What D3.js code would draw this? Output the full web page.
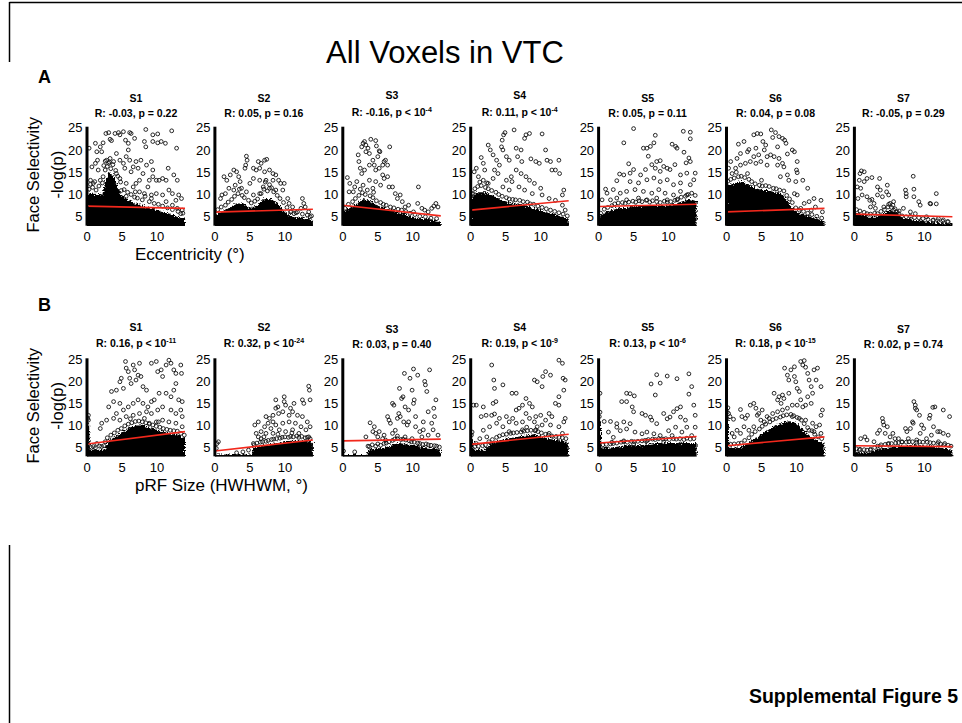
<!DOCTYPE html>
<html>
<head>
<meta charset="utf-8">
<script src="https://cdn.jsdelivr.net/npm/d3@7/dist/d3.min.js"></script>
<style>
  body { margin: 0; background: #fff; }
  svg text { font-family: Arial, "Liberation Sans", Helvetica, sans-serif; fill: #000; }
</style>
</head>
<body>
<div id="fig"></div>
<script>

// ---- data ----
var subjects = ["S1", "S2", "S3", "S4", "S5", "S6", "S7"];
var xTicks = [0, 5, 10];
var yTicks = [5, 10, 15, 20, 25];

var eccStats = ["R: -0.03, p = 0.22", "R: 0.05, p = 0.16", "R: -0.16, p < 10", "R: 0.11, p < 10",
                "R: 0.05, p = 0.11", "R: 0.04, p = 0.08", "R: -0.05, p = 0.29"];
var eccSup = ["", "", "-4", "-4", "", "", ""];
var sizeStats = ["R: 0.16, p < 10", "R: 0.32, p < 10", "R: 0.03, p = 0.40", "R: 0.19, p < 10",
                 "R: 0.13, p < 10", "R: 0.18, p < 10", "R: 0.02, p = 0.74"];
var sizeSup = ["-11", "-24", "", "-9", "-6", "-15", ""];

// regression line: [value at x=0, value at x=14]
var eccFit = [[7.4, 6.9], [6.05, 6.7], [7.6, 5.2], [6.5, 8.6], [7.3, 7.8], [6.1, 6.9], [5.6, 5.0]];
var sizeFit = [[5.8, 8.6], [4.2, 6.7], [6.5, 6.9], [5.7, 8.0], [6.0, 7.5], [5.4, 7.4], [5.4, 5.2]];

// top edge of the saturated (fully overlapping) point mass, [x, y]
var eccDense = [
  [[0,10.3],[2.2,10],[2.6,13],[3.1,15],[3.7,14.5],[4.2,12.5],[4.8,10.2],[5.4,9.3],[6,8.7],[7,8],[8,7.5],[9,7],[10,6.5],[11,6],[12,5.5],[13,5],[14,4.5]],
  [[0,5.5],[1,6],[2,7],[3,8],[4,8],[5,7],[6,7.5],[7,9],[8,9],[9,8],[10,6],[11,5],[12,4.8],[13,4.6],[14,4.3]],
  [[0,6],[1,7],[2,8],[3,9],[4,8.5],[5,7.5],[6,7],[7,6.5],[8,6],[9,5.5],[10,5],[11,4.5],[12,4.5],[13,4.2],[14,4]],
  [[0,9],[1,10.5],[2,10.5],[3,10],[4,9],[5,8.5],[6,8],[7,8],[8,7.5],[9,7],[10,6.5],[11,6],[12,5.5],[13,5],[14,4.5]],
  [[0,5],[1,6],[2,6.5],[3,7],[4,7],[5,7.5],[6,7.5],[7,7.5],[8,7.5],[9,7.5],[10,7.5],[11,8],[12,8.5],[13,9],[14,8.5]],
  [[0,12],[1,12.5],[2,13],[3,12.5],[4,11.5],[5,11],[6,11],[7,10.5],[8,10],[9,8],[10,6],[11,5.5],[12,5],[13,4.5],[14,4]],
  [[0,6],[1,5.5],[2,5],[3,5],[4,5.5],[5,6.5],[6,6],[7,4.5],[8,4.5],[9,4.2],[10,4],[11,3.8],[12,3.6],[13,3.5],[14,3.5]]
];
var sizeDense = [
  [[0,10.5],[0.3,10.5],[0.4,4.5],[2.5,4.5],[3,6.5],[4,7.5],[5,8.5],[6,9.5],[7,10],[8,10],[9,9.5],[10,9],[11,8.5],[12,8],[13,8],[14,7]],
  [[0,3.4],[5.3,3.4],[5.5,5],[7,5.5],[9,6],[11,6.5],[13,6.5],[14,6]],
  [[0,3.3],[3.4,3.3],[3.6,4.5],[6,5],[8,6],[10,5.5],[12,5],[14,4.5]],
  [[0,7],[0.3,7],[0.4,4.5],[2,4.5],[3,6],[5,7],[7,7.5],[9,8],[11,7],[13,6.5],[14,6]],
  [[0,11],[0.3,11],[0.4,5],[2,5],[4,5.5],[6,5.5],[8,6],[10,6],[12,6],[14,6]],
  [[0,12],[0.3,12],[0.4,5],[2,5],[3,6],[4,7],[5,8],[6,9],[7,10],[8,10.5],[9,11],[10,10.5],[11,9],[12,7.5],[13,6.5],[14,6]],
  [[0,4],[2,3.8],[3,4.5],[5,5],[8,5.5],[10,5.5],[12,5],[14,4.5]]
];

// individually visible voxels, [x, y]
var eccPoints = [
  [[0.3,20.4],[1.2,21.5],[1.4,19.6],[2.1,19.6],[1.9,20.7],[2.3,21.6],[2.7,23.7],[3.1,23.9],[3.3,22.4],[3.5,22.1],[4.0,23.7],[4.5,23.9],[4.7,23.4],[5.2,24.1],[5.5,22.2],[5.9,21.5],[6.1,23.9],[6.3,23.7],[8.4,24.6],[8.2,21.9],[8.4,20.7],[9.4,23.4],[10.1,23.6],[9.4,21.9],[10.1,21.6],[10.6,21.9],[11.2,21.5],[12.1,24.3],[12.8,20.4],[6.8,22.6],[5.9,20.0],
   [0.7,16.2],[1.2,17.0],[1.5,17.7],[1.6,15.5],[0.5,13.2],[0.9,12.5],[2.8,17.7],[3.1,17.0],[3.3,18.1],[3.8,17.4],[4.2,19.2],[4.7,17.7],[5.2,17.0],[5.4,15.9],[5.6,18.5],[6.1,17.7],[6.6,16.2],[6.3,15.1],[7.0,17.4],[7.3,15.9],[7.7,17.7],[8.0,14.7],[8.5,16.6],[9.2,17.4],[9.4,15.5],[9.4,14.0],[9.9,13.2],[10.3,13.2],[10.8,13.6],[11.3,13.2],[11.6,15.9],[12.4,14.4],[12.9,13.2],[8.9,13.2],[8.7,11.7],[7.5,13.2],[7.0,12.5],[6.6,11.7],[5.6,12.5],[4.7,13.6],[4.2,14.7],[2.6,15.5],[2.3,14.0],[1.9,13.2],[11.7,11.0],[12.2,10.2],[13.1,9.9],[13.5,9.1],[12.7,8.7],[10.8,9.9],[9.9,10.2],[9.2,9.9],[8.2,10.2],[7.5,10.6],[11.3,8.4],[12.2,7.6],[12.9,6.9],[13.6,6.5],[13.4,5.7]],
  [[4.5,18.6],[4.6,17.7],[4.4,16.6],[4.3,15.9],[6.2,17.4],[6.6,17.0],[7.1,17.7],[7.4,17.9],[5.5,15.9],[5.9,15.5],[6.4,15.9],[7.1,15.1],[7.8,15.5],[8.3,14.7],[8.7,14.4],[9.1,13.2],[9.4,12.5],[8.3,13.2],[7.3,13.2],[6.4,13.2],[5.5,13.6],[5.0,12.5],[6.9,11.7],[7.8,11.4],[8.7,11.0],[9.7,11.0],[9.9,12.5],[1.3,14.0],[1.7,13.2],[2.2,14.4],[2.7,15.5],[3.1,15.1],[3.4,14.0],[3.6,12.9],[2.9,12.1],[2.0,11.4],[1.0,9.9],[0.8,9.1],[1.5,10.2],[2.7,11.0],[3.8,11.4],[4.5,10.6],[5.5,9.9],[6.4,10.2],[10.4,9.1],[10.6,8.0],[11.1,7.2],[12.5,9.1],[12.7,8.0],[12.9,7.2],[12.3,6.9],[11.8,6.1],[13.4,6.1],[13.6,5.0],[11.3,5.7],[10.8,6.1]],
  [[0.65,13.8],[0.9,10.6],[1.5,10.6],[2.0,12.9],[2.2,18.9],[2.3,17.4],[2.5,15.9],[2.7,20.7],[2.9,21.5],[3.1,21.9],[3.3,21.1],[3.6,20.4],[3.3,19.6],[3.8,19.2],[4.0,22.4],[4.7,22.1],[4.8,20.9],[5.2,19.8],[5.3,19.6],[5.0,18.5],[4.3,17.7],[3.8,16.6],[3.1,15.5],[2.7,14.7],[4.5,16.6],[4.7,15.5],[5.2,15.9],[5.7,16.6],[5.9,17.4],[6.1,17.7],[6.4,16.6],[6.7,20.7],[5.7,14.4],[5.9,13.6],[6.4,14.0],[6.6,11.7],[7.1,11.7],[7.5,10.2],[7.8,9.1],[8.2,9.9],[8.5,8.4],[9.4,7.6],[8.9,7.2],[10.8,11.7],[10.7,8.0],[11.3,6.9],[11.7,6.5],[12.7,6.9],[13.0,7.4],[13.3,8.0],[13.6,7.2],[12.2,6.1],[10.1,6.1],[1.0,12.5],[1.7,11.7],[3.8,13.2],[4.7,12.9],[5.4,12.1],[2.9,12.1],[4.3,11.4]],
  [[0.4,10.2],[0.5,15.1],[0.8,15.9],[1.5,18.3],[1.8,17.0],[2.0,15.5],[2.5,21.1],[2.8,20.0],[3.2,18.9],[3.7,17.7],[3.4,15.5],[3.9,14.7],[4.1,16.6],[4.4,20.7],[4.5,22.2],[4.7,23.4],[4.9,23.9],[4.6,20.0],[5.1,18.5],[5.5,17.7],[6.2,24.5],[6.5,20.4],[7.2,20.0],[6.7,18.5],[7.3,17.4],[7.7,22.6],[7.9,23.4],[8.4,23.7],[8.6,18.0],[9.3,17.4],[9.8,17.0],[10.2,23.6],[10.7,20.0],[10.9,17.7],[11.4,17.4],[12.6,17.7],[12.7,14.7],[12.1,15.5],[11.6,15.5],[13.3,11.0],[13.1,9.9],[10.0,11.4],[9.1,12.5],[8.4,13.2],[7.9,14.0],[7.2,14.7],[6.5,15.5],[5.8,14.0],[5.1,13.2],[5.9,12.9],[6.9,11.7],[7.7,11.0],[8.8,10.2],[10.2,9.9],[11.2,9.1],[12.1,8.7],[13.1,7.6],[13.5,6.5],[3.2,13.6],[2.5,12.5],[1.8,13.2],[1.1,14.0],[4.6,11.7],[5.5,11.0]],
  [[5.0,24.8],[3.6,21.6],[6.4,20.4],[6.9,20.4],[7.4,20.8],[8.1,23.3],[7.9,21.6],[10.5,21.3],[11.0,20.8],[11.2,20.4],[12.1,24.2],[13.1,24.0],[13.1,22.5],[12.2,19.5],[12.9,18.2],[13.1,17.4],[12.5,17.1],[7.1,18.6],[8.3,17.4],[8.8,17.6],[9.3,16.3],[4.3,16.9],[5.0,15.6],[3.0,14.6],[3.6,14.4],[4.5,14.8],[6.0,14.4],[6.7,15.6],[7.6,16.7],[8.1,15.9],[9.8,15.9],[10.2,15.6],[10.9,16.7],[11.7,14.4],[12.6,14.8],[13.6,13.3],[13.8,14.8],[2.6,13.1],[4.5,12.9],[5.7,12.6],[6.9,13.3],[8.8,12.9],[9.8,13.3],[10.7,12.2],[11.7,12.6],[13.1,12.2],[1.0,11.2],[1.2,10.3],[2.1,11.1],[3.1,10.3],[4.0,10.7],[5.2,11.1],[6.4,10.7],[7.6,10.3],[8.6,11.1],[9.5,10.3],[10.7,9.9],[11.7,10.7],[12.6,9.9],[0.5,8.8],[1.7,8.8],[2.6,9.2],[4.0,8.8],[5.7,9.2],[6.9,8.8],[8.3,9.2],[9.8,8.8],[11.2,8.8],[8.8,15.2],[7.9,13.7]],
  [[0.3,15.9],[0.6,17.4],[1.5,18.1],[2.0,19.2],[1.7,21.3],[2.5,21.9],[3.0,19.6],[3.2,20.1],[3.9,23.4],[4.4,23.7],[4.9,23.6],[5.2,21.9],[5.6,21.1],[4.2,20.4],[5.8,18.5],[6.4,24.5],[6.6,22.8],[7.0,23.9],[7.5,23.0],[8.0,22.6],[8.3,22.2],[8.5,21.5],[7.3,20.7],[6.8,18.5],[7.3,16.6],[6.3,18.9],[8.7,19.1],[9.4,20.0],[9.7,19.6],[10.1,17.4],[10.0,15.5],[10.1,14.9],[10.9,13.2],[9.9,12.9],[9.7,10.2],[10.1,9.9],[11.6,11.4],[12.5,9.1],[13.5,8.7],[11.8,8.4],[11.1,8.0],[12.7,7.2],[13.7,6.1],[12.1,6.5],[10.6,6.9],[8.2,16.2],[8.0,17.0],[7.5,18.1],[8.7,14.4],[8.9,13.2],[7.7,14.0],[5.8,16.6],[4.9,17.4],[4.2,17.0],[3.4,17.4],[2.7,17.0],[2.0,16.6],[1.3,15.9],[0.8,14.7],[3.9,18.5],[4.6,18.9],[5.4,20.0]],
  [[0.4,11.7],[0.5,9.1],[0.7,13.2],[0.8,14.7],[1.0,15.3],[1.4,15.1],[1.4,12.9],[1.8,13.6],[0.9,11.4],[1.1,9.9],[1.8,9.5],[2.2,8.7],[2.5,8.9],[2.8,8.0],[2.5,13.8],[3.6,13.6],[3.3,11.7],[3.7,11.0],[4.7,12.1],[4.6,10.6],[4.9,9.9],[4.0,9.5],[3.3,9.9],[5.1,8.0],[5.6,8.4],[4.2,7.2],[3.0,6.9],[2.3,7.2],[7.3,11.0],[7.4,10.2],[7.4,9.5],[8.4,14.1],[8.5,11.2],[8.5,9.5],[9.2,8.4],[9.4,7.6],[7.0,6.9],[8.0,6.1],[10.8,8.0],[10.9,7.9],[11.7,10.2],[11.7,7.9],[12.0,4.6],[12.7,4.3],[13.4,3.9],[10.3,5.0],[11.3,4.3],[8.7,5.7],[6.1,6.1],[5.6,6.5],[6.3,5.7]]
];
var sizePoints = [
  [[0.2,11.2],[1.9,9.3],[2.1,10.5],[3.1,14.2],[3.5,17.7],[3.8,15.4],[4.2,18.0],[4.7,19.9],[4.9,20.7],[5.2,18.4],[5.5,24.5],[5.6,23.0],[5.9,22.2],[6.1,20.7],[6.3,19.5],[6.6,23.7],[6.8,22.6],[7.0,20.3],[7.3,21.4],[7.5,24.1],[7.7,21.1],[8.0,18.8],[8.5,18.0],[9.2,24.1],[9.9,24.5],[10.1,22.2],[10.6,22.6],[10.8,21.1],[11.3,23.7],[11.7,24.8],[12.0,24.1],[12.4,22.6],[12.7,21.8],[13.4,23.7],[13.5,21.8],[12.7,19.5],[12.4,18.0],[13.1,15.8],[13.6,15.4],[13.4,13.5],[12.0,16.5],[11.3,17.3],[10.3,17.3],[9.6,15.8],[9.2,15.4],[8.7,14.2],[8.0,15.0],[7.3,15.8],[6.6,15.0],[5.9,14.2],[5.2,13.5],[4.7,15.0],[4.2,12.7],[3.8,11.6],[2.8,11.2],[12.7,12.7],[13.6,12.0],[12.0,13.5],[10.8,14.2],[10.1,13.5],[9.2,12.7],[8.5,13.1],[7.5,12.7],[6.6,12.3],[5.6,12.0],[4.7,11.2],[12.7,10.5],[13.6,9.7],[11.7,10.8],[10.8,11.2],[9.9,10.8],[8.9,10.5],[1.4,5.9],[0.9,5.2],[2.1,5.2],[2.6,6.3]],
  [[0.3,5.9],[0.5,6.3],[0.2,4.8],[3.1,3.8],[4.0,4.0],[4.8,4.4],[5.5,5.9],[5.9,8.2],[6.2,7.4],[6.6,8.6],[7.1,9.7],[7.6,10.5],[7.8,11.6],[8.3,12.3],[8.7,13.9],[9.0,14.2],[9.1,12.7],[9.7,13.1],[10.1,14.6],[9.9,15.4],[8.7,15.8],[9.9,16.5],[11.3,15.0],[11.1,13.1],[11.8,12.3],[12.5,12.0],[12.5,15.8],[12.7,15.0],[13.4,18.9],[13.5,18.0],[13.6,15.8],[13.2,10.8],[13.6,9.7],[12.3,9.7],[11.5,10.5],[10.6,10.8],[9.7,10.5],[8.7,10.1],[8.0,9.3],[7.3,8.2],[6.6,7.0],[8.3,8.2],[9.2,9.0],[10.1,8.6],[11.1,9.0],[12.0,8.2],[13.0,9.0],[13.4,7.4],[5.7,10.1],[6.2,10.8],[7.3,12.0],[8.3,10.8],[10.6,12.3],[10.8,13.9]],
  [[0.1,4.2],[1.7,4.0],[3.3,7.4],[3.6,5.3],[3.9,10.6],[4.3,8.6],[4.5,9.7],[4.7,8.2],[5.0,7.4],[5.2,8.6],[5.7,7.0],[5.9,7.8],[6.1,6.7],[6.4,12.0],[6.6,11.2],[6.8,10.5],[7.1,15.0],[7.3,14.6],[7.5,8.9],[7.8,11.6],[8.0,12.7],[8.1,18.4],[8.2,12.0],[8.4,16.1],[8.6,16.5],[8.7,10.8],[8.8,21.8],[8.9,14.2],[9.2,10.1],[9.4,10.8],[9.6,20.7],[9.9,18.0],[10.1,22.8],[10.2,15.8],[10.4,12.0],[10.4,9.7],[10.7,21.4],[11.0,8.6],[11.5,10.8],[11.7,20.0],[11.8,19.2],[12.0,17.7],[12.2,13.1],[12.4,22.6],[12.7,10.5],[12.9,9.0],[13.0,13.9],[13.1,12.0],[13.3,15.8],[13.6,7.8],[11.3,7.4],[12.2,7.8],[9.9,7.0],[8.9,7.4],[7.8,7.6],[7.1,8.2],[9.4,13.5],[10.1,15.0],[11.5,9.0]],
  [[0.4,14.6],[0.8,14.6],[3.0,23.7],[3.3,20.3],[3.4,18.4],[3.2,15.0],[3.6,15.4],[1.8,14.2],[1.5,12.0],[2.2,12.3],[3.0,12.3],[3.4,12.6],[4.6,19.2],[5.9,17.3],[6.5,17.3],[7.9,16.1],[6.5,13.5],[6.9,13.9],[7.4,14.6],[8.4,15.0],[8.8,14.2],[9.1,20.3],[9.5,19.9],[10.2,18.8],[10.3,21.1],[10.7,22.2],[11.4,21.4],[12.6,24.8],[13.1,24.1],[13.2,20.7],[13.5,20.3],[13.3,18.0],[12.6,16.5],[12.1,15.0],[12.6,14.6],[11.6,12.0],[11.2,12.7],[13.3,10.8],[13.5,11.6],[10.7,11.2],[10.0,12.3],[9.3,12.0],[8.4,11.6],[7.4,10.8],[6.5,10.5],[5.5,10.8],[4.6,9.7],[3.7,10.5],[2.7,9.7],[1.8,8.9],[2.3,7.4],[1.3,7.0],[0.8,5.9],[4.1,11.6],[5.1,12.0],[6.0,11.6],[7.9,12.7],[9.1,10.8],[10.2,10.1],[11.4,10.1],[12.6,9.7],[5.5,8.6],[7.4,9.0],[9.3,9.0],[11.2,8.2],[13.1,8.2]],
  [[0.2,17.3],[0.8,10.9],[1.7,10.9],[1.4,8.5],[2.1,7.3],[2.6,9.6],[3.3,15.4],[4.0,17.3],[4.5,17.2],[5.1,16.7],[4.0,15.4],[4.8,14.2],[5.0,13.1],[6.2,12.7],[6.7,12.3],[7.4,11.9],[7.6,11.2],[8.1,16.9],[7.5,19.4],[8.3,21.5],[8.8,19.6],[9.8,21.2],[11.2,20.6],[12.9,21.7],[13.3,18.8],[12.9,17.1],[13.6,14.6],[13.8,12.3],[11.7,14.2],[11.2,13.8],[10.7,13.1],[10.2,11.9],[9.3,12.7],[9.8,11.5],[11.7,11.9],[12.4,11.2],[3.6,10.8],[4.5,10.4],[4.0,9.2],[3.1,8.8],[5.2,8.5],[6.2,8.1],[6.9,8.5],[7.9,8.1],[8.8,7.7],[10.0,8.8],[11.0,9.6],[11.9,8.5],[12.6,9.6],[13.3,7.7],[13.8,9.6],[10.5,7.7],[1.9,6.2],[3.6,6.5],[5.0,5.8],[6.9,6.5],[9.3,6.2],[11.7,5.8],[8.3,10.4],[2.6,10.4]],
  [[0.3,12.7],[0.5,12.0],[1.0,11.4],[2.0,13.6],[2.2,12.0],[2.7,11.6],[3.0,12.3],[3.4,14.6],[3.9,15.0],[4.2,13.9],[4.4,12.3],[4.6,12.7],[4.9,11.2],[5.1,13.5],[5.4,10.8],[5.8,12.0],[6.8,17.3],[7.3,15.8],[7.5,16.5],[7.8,15.0],[8.0,16.9],[8.2,16.1],[8.3,23.0],[8.7,21.4],[8.9,20.3],[9.2,22.6],[9.7,23.3],[9.7,21.1],[9.9,19.9],[10.1,18.4],[10.4,17.7],[10.6,24.5],[10.9,23.7],[11.1,24.7],[11.3,23.2],[11.6,21.8],[11.8,20.3],[12.1,18.8],[12.3,17.3],[12.5,22.6],[13.0,23.0],[12.8,20.3],[13.5,18.8],[13.7,13.5],[13.5,12.3],[13.3,10.1],[12.8,9.7],[12.1,15.0],[11.6,16.5],[11.3,14.6],[10.9,14.2],[10.6,15.8],[10.1,14.6],[9.4,14.6],[8.9,17.3],[8.7,13.9],[8.0,13.5],[7.3,13.1],[6.6,12.7],[6.1,11.6],[9.4,12.0],[10.4,11.6],[11.3,11.2],[12.3,10.5],[11.8,8.9],[12.5,8.6],[13.5,8.2],[1.5,8.9],[2.5,9.7],[3.2,8.9],[3.9,9.7],[2.0,8.2],[1.1,7.4],[0.8,8.2]],
  [[0.9,7.0],[1.5,7.4],[1.8,6.7],[2.8,6.3],[2.3,4.4],[3.3,8.2],[3.6,8.9],[4.0,11.6],[4.1,10.8],[4.2,10.1],[4.4,8.2],[4.7,9.7],[5.1,7.4],[5.5,8.2],[5.8,7.0],[6.3,7.0],[6.8,6.3],[7.3,9.3],[7.5,8.6],[8.0,9.3],[8.3,10.8],[8.4,10.5],[8.5,15.4],[8.7,14.6],[8.7,13.9],[8.9,13.5],[9.3,12.3],[9.6,10.1],[9.9,9.3],[10.3,7.0],[10.7,11.6],[10.8,12.3],[11.2,14.1],[11.5,14.2],[11.3,9.7],[11.9,8.6],[12.2,8.6],[12.7,13.5],[12.7,8.2],[13.4,7.8],[13.6,12.0],[11.0,7.8],[9.4,8.2],[7.7,7.0],[8.9,6.7],[12.0,6.3],[12.9,5.9],[4.9,5.9],[0.7,4.4],[3.7,5.2]]
];

// voxels crowding the edge of the saturated mass, [x, y]
var eccFringe = [
  [[0.3,11.2],[0.8,11.6],[1.3,11.0],[1.7,11.9],[2.2,12.6],[0.5,12.3],[1.1,12.9],[2.4,16.5],[2.9,16.3],[3.4,15.8],[3.7,16.7],[4.1,15.4],[4.4,14.1],[4.8,12.8],[5.3,11.1],[5.8,10.5],[6.3,10.0],[6.8,9.4],[7.2,9.2],[7.9,8.8],[8.3,9.6],[8.9,8.4],[9.6,8.0],[10.2,7.8],[10.8,7.4],[11.5,7.0],[12.2,6.6],[13.0,6.2],[13.7,5.8],[4.9,10.9],[5.6,9.6],[3.2,17.3],[2.6,17.5],[6.9,10.6],[9.2,9.1]],
  [[0.4,6.6],[0.9,7.2],[1.5,7.6],[1.9,8.3],[2.4,8.9],[2.8,9.6],[3.3,10.2],[3.9,9.8],[4.2,9.3],[4.8,8.7],[5.2,8.1],[5.7,8.5],[6.1,9.0],[6.6,10.2],[7.0,11.2],[7.5,10.8],[8.1,11.5],[8.4,10.6],[8.9,9.8],[9.3,9.1],[9.8,8.2],[10.3,7.1],[10.9,6.2],[11.6,5.9],[12.5,5.6],[13.2,5.4],[13.8,5.2],[7.8,12.2],[7.2,12.8],[3.5,11.2]],
  [[0.3,6.9],[0.8,7.8],[1.4,8.4],[1.8,9.1],[2.3,9.8],[2.8,10.4],[3.2,10.0],[3.9,9.7],[4.3,9.3],[4.8,8.6],[5.4,8.2],[5.8,7.8],[6.2,7.6],[6.8,7.2],[7.3,7.0],[7.9,6.7],[8.4,6.5],[9.0,6.2],[9.6,5.8],[10.3,5.5],[11.0,5.1],[11.8,5.0],[12.6,4.7],[13.4,4.6],[2.5,11.2],[3.5,11.0],[4.4,10.5]],
  [[0.2,10.2],[0.6,11.3],[1.0,11.8],[1.5,12.0],[2.1,11.6],[2.5,11.3],[3.0,10.9],[3.6,10.5],[4.0,10.0],[4.5,9.6],[5.1,9.3],[5.5,9.0],[6.0,8.9],[6.4,8.8],[7.0,8.7],[7.5,8.4],[8.1,8.3],[8.5,7.9],[9.0,7.8],[9.6,7.4],[10.2,7.1],[10.8,6.8],[11.4,6.5],[12.0,6.2],[12.6,5.9],[13.2,5.6],[13.8,5.2],[1.3,12.8],[2.3,12.6]],
  [[0.3,5.8],[0.8,6.7],[1.3,7.1],[1.9,7.5],[2.3,7.9],[2.8,8.1],[3.4,8.2],[3.8,8.0],[4.3,8.3],[4.9,8.5],[5.3,8.3],[5.8,8.6],[6.2,8.4],[6.8,8.7],[7.3,8.3],[7.7,8.6],[8.3,8.4],[8.8,8.2],[9.4,8.5],[9.8,8.3],[10.3,8.4],[10.9,8.7],[11.3,9.0],[11.8,9.4],[12.4,9.6],[12.8,10.0],[13.3,10.3],[13.8,9.8]],
  [[0.2,13.0],[0.6,13.4],[1.1,13.7],[1.7,14.0],[2.1,14.1],[2.6,13.8],[3.2,13.4],[3.6,12.9],[4.1,12.4],[4.7,12.1],[5.1,11.9],[5.6,12.0],[6.1,11.8],[6.7,11.4],[7.1,11.3],[7.6,11.0],[8.2,10.8],[8.6,9.8],[9.0,9.0],[9.4,8.2],[9.9,7.0],[10.4,6.5],[11.0,6.2],[11.6,5.8],[12.2,5.5],[12.9,5.1],[13.6,4.7],[1.4,15.0],[3.0,14.7],[5.0,13.2]],
  [[0.3,6.6],[0.8,6.3],[1.4,6.0],[1.8,5.7],[2.3,5.6],[2.9,5.8],[3.3,5.7],[3.8,6.2],[4.3,6.6],[4.8,7.2],[5.3,7.1],[5.8,6.8],[6.4,6.3],[6.8,5.2],[7.4,5.0],[8.0,5.1],[8.6,4.8],[9.2,4.8],[9.8,4.6],[10.5,4.4],[11.2,4.2],[11.9,4.1],[12.6,4.0],[13.3,3.9],[4.9,7.8],[5.5,7.6]]
];
var sizeFringe = [
  [[0.1,11.6],[0.2,12.3],[0.6,5.0],[1.2,4.9],[1.8,5.3],[2.4,5.4],[2.9,7.2],[3.4,7.8],[3.9,8.3],[4.4,8.9],[4.9,9.3],[5.4,9.9],[5.9,10.3],[6.4,10.6],[6.9,10.9],[7.4,11.0],[7.9,10.8],[8.4,10.6],[8.9,10.3],[9.4,10.1],[9.9,9.8],[10.4,9.6],[10.9,9.3],[11.4,9.1],[11.9,8.9],[12.4,8.8],[12.9,8.7],[13.4,8.2],[13.9,7.8],[6.2,11.5],[8.2,11.6],[10.2,10.8]],
  [[5.6,5.6],[6.0,6.0],[6.5,6.2],[6.8,6.3],[7.3,6.4],[7.6,6.6],[8.1,6.8],[8.4,6.9],[8.8,7.0],[9.3,7.1],[9.6,7.3],[10.0,7.4],[10.5,7.3],[10.8,7.5],[11.2,7.4],[11.7,7.6],[12.0,7.3],[12.4,7.5],[12.9,7.2],[13.2,7.3],[13.6,7.0],[7.0,7.4],[9.0,8.0],[11.0,8.3]],
  [[3.8,5.2],[4.2,5.6],[4.7,5.3],[5.0,5.8],[5.4,5.5],[5.9,5.9],[6.2,6.0],[6.6,6.3],[7.1,6.6],[7.4,6.9],[7.8,7.0],[8.3,6.8],[8.6,6.9],[9.0,6.7],[9.5,6.5],[9.8,6.3],[10.2,6.2],[10.7,6.0],[11.0,5.9],[11.4,5.7],[11.9,5.8],[12.2,5.6],[12.6,5.5],[13.1,5.4],[13.4,5.3],[13.8,5.1]],
  [[0.1,7.8],[0.2,8.5],[0.6,5.2],[1.1,5.3],[1.7,5.4],[2.1,5.6],[2.6,6.3],[3.1,6.8],[3.7,7.3],[4.1,7.6],[4.6,7.9],[5.1,8.0],[5.7,8.2],[6.1,8.3],[6.6,8.4],[7.2,8.5],[7.6,8.7],[8.1,8.8],[8.6,8.9],[9.2,8.8],[9.6,8.6],[10.1,8.3],[10.7,8.0],[11.1,7.8],[11.6,7.6],[12.2,7.5],[12.6,7.3],[13.1,7.2],[13.6,7.0],[8.0,9.6],[9.5,9.7]],
  [[0.1,12.0],[0.2,13.0],[0.6,5.6],[1.1,5.7],[1.7,5.8],[2.1,5.9],[2.6,6.0],[3.2,6.2],[3.6,6.3],[4.1,6.2],[4.7,6.4],[5.1,6.3],[5.6,6.4],[6.2,6.5],[6.6,6.6],[7.1,6.8],[7.7,6.9],[8.1,6.8],[8.6,7.0],[9.2,6.9],[9.6,7.0],[10.1,6.8],[10.7,7.0],[11.1,6.9],[11.6,7.0],[12.2,6.8],[12.6,7.1],[13.1,6.9],[13.6,7.0]],
  [[0.1,13.0],[0.2,14.0],[0.6,5.7],[1.1,5.8],[1.7,5.9],[2.1,6.0],[2.6,6.6],[3.2,7.2],[3.6,8.0],[4.1,8.6],[4.7,9.2],[5.1,9.8],[5.6,10.3],[6.2,10.8],[6.6,11.3],[7.1,11.6],[7.7,11.9],[8.1,12.2],[8.6,12.4],[9.2,12.5],[9.6,12.2],[10.1,11.8],[10.7,11.2],[11.1,10.4],[11.6,9.5],[12.2,8.8],[12.6,8.0],[13.1,7.4],[13.6,7.0]],
  [[0.3,4.7],[0.8,4.6],[1.4,4.5],[1.8,4.4],[2.3,4.6],[2.9,5.0],[3.3,5.3],[3.8,5.6],[4.4,5.7],[4.8,5.8],[5.3,5.9],[5.9,6.0],[6.3,6.1],[6.8,6.2],[7.4,6.2],[7.8,6.3],[8.3,6.3],[8.9,6.2],[9.3,6.3],[9.8,6.2],[10.4,6.2],[10.8,6.1],[11.3,6.0],[11.9,5.9],[12.3,5.8],[12.8,5.6],[13.4,5.5],[13.8,5.3]]
];

// ---- layout ----
var W = 962, H = 723;
var panelLeft0 = 87, panelStep = 127.9, pw = 98;
var rows = [
  {top: 127.7, h: 98, stats: eccStats, sup: eccSup, fit: eccFit, dense: eccDense, pts: eccPoints,
   fringe: eccFringe, label: "A", labelY: 83, xlabel: "Eccentricity (\u00b0)"},
  {top: 359.3, h: 97, stats: sizeStats, sup: sizeSup, fit: sizeFit, dense: sizeDense, pts: sizePoints,
   fringe: sizeFringe, label: "B", labelY: 311, xlabel: "pRF Size (HWHWM, \u00b0)"}
];

var svg = d3.select("#fig").append("svg")
  .attr("width", W).attr("height", H);

// ragged edge for the saturated point mass
var defs = svg.append("defs");
var rough = defs.append("filter").attr("id", "rough")
  .attr("x", "-10%").attr("y", "-20%").attr("width", "120%").attr("height", "140%");
rough.append("feTurbulence")
  .attr("type", "fractalNoise").attr("baseFrequency", 0.7)
  .attr("numOctaves", 2).attr("seed", 3).attr("result", "noise");
rough.append("feDisplacementMap")
  .attr("in", "SourceGraphic").attr("in2", "noise")
  .attr("scale", 6).attr("xChannelSelector", "R").attr("yChannelSelector", "G");

// page frame fragments
svg.append("line").attr("x1", 9.5).attr("x2", W).attr("y1", 2.5).attr("y2", 2.5)
  .attr("stroke", "#000").attr("stroke-width", 1.5);
svg.append("line").attr("x1", 9.5).attr("x2", 9.5).attr("y1", 2).attr("y2", 62)
  .attr("stroke", "#000").attr("stroke-width", 1.5);
svg.append("line").attr("x1", 9.5).attr("x2", 9.5).attr("y1", 545).attr("y2", H)
  .attr("stroke", "#000").attr("stroke-width", 1.5);

svg.append("text")
  .attr("x", 445).attr("y", 63.3)
  .attr("text-anchor", "middle")
  .style("font-size", "31px")
  .text("All Voxels in VTC");

svg.append("text")
  .attr("x", 958).attr("y", 703)
  .attr("text-anchor", "end")
  .style("font-size", "19.5px").style("font-weight", "bold")
  .text("Supplemental Figure 5");

rows.forEach(function(row, ri){

  var bottom = row.top + row.h;

  svg.append("text")
    .attr("x", 38).attr("y", row.labelY)
    .style("font-size", "18px").style("font-weight", "bold")
    .text(row.label);

  // y label (two lines) beside first panel
  var yc = row.top + row.h / 2 - 2;
  var yl = svg.append("g").attr("transform", "translate(0," + yc + ") rotate(-90)");
  yl.append("text").attr("x", 0).attr("y", 39)
    .attr("text-anchor", "middle").style("font-size", "16.5px")
    .text("Face Selectivity");
  yl.append("text").attr("x", 0).attr("y", 63)
    .attr("text-anchor", "middle").style("font-size", "16.5px")
    .text("-log(p)");

  // x label starts at centre of first panel
  svg.append("text")
    .attr("x", panelLeft0 + pw / 2 - 1).attr("y", bottom + 34.5)
    .style("font-size", "17px")
    .text(row.xlabel);

  subjects.forEach(function(s, i){
    var left = panelLeft0 + i * panelStep;
    var x = d3.scaleLinear().domain([0, 14]).range([left, left + pw]);
    var y = d3.scaleLinear().domain([3, 25]).range([bottom, row.top]);
    var g = svg.append("g").attr("class", "panel");
    var clipId = "clip" + ri + "_" + i;

    defs.append("clipPath").attr("id", clipId)
      .append("rect")
      .attr("x", left).attr("y", row.top - 4)
      .attr("width", pw + 3).attr("height", row.h + 4);

    // title
    var up = row.sup[i] ? 2.5 : 0;
    g.append("text")
      .attr("x", x(7)).attr("y", row.top - 26 - up)
      .attr("text-anchor", "middle")
      .style("font-size", "10.5px").style("font-weight", "bold")
      .text(s);
    var t = g.append("text")
      .attr("x", x(7)).attr("y", row.top - 11 - up / 2.5)
      .attr("text-anchor", "middle")
      .style("font-size", "10.5px").style("font-weight", "bold");
    t.append("tspan").text(row.stats[i]);
    if (row.sup[i]) {
      t.append("tspan").attr("dy", -4).style("font-size", "7px").text(row.sup[i]);
    }

    var plot = g.append("g").attr("clip-path", "url(#" + clipId + ")");

    // saturated mass of overlapping voxels
    var area = d3.area()
      .x(function(d){ return x(d[0]); })
      .y0(bottom + 6)
      .y1(function(d){ return y(d[1]); });
    plot.append("path")
      .datum(row.dense[i])
      .attr("d", area)
      .attr("fill", "#000")
      .attr("filter", "url(#rough)");

    // visible voxels
    plot.selectAll("circle")
      .data(row.fringe[i].concat(row.pts[i]))
      .enter().append("circle")
      .attr("cx", function(d){ return x(d[0]); })
      .attr("cy", function(d){ return y(d[1]); })
      .attr("r", 1.9)
      .attr("fill", "none")
      .attr("stroke", "#111")
      .attr("stroke-width", 0.9);

    // regression line
    g.append("line")
      .attr("x1", x(0)).attr("x2", x(14))
      .attr("y1", y(row.fit[i][0])).attr("y2", y(row.fit[i][1]))
      .attr("stroke", "#f2281c").attr("stroke-width", 1.6);

    // axes
    g.append("line")
      .attr("x1", left).attr("x2", left)
      .attr("y1", row.top - 1).attr("y2", bottom)
      .attr("stroke", "#000").attr("stroke-width", 3);
    g.append("line")
      .attr("x1", left).attr("x2", left + pw)
      .attr("y1", bottom - 0.5).attr("y2", bottom - 0.5)
      .attr("stroke", "#000").attr("stroke-width", 1.5);

    g.selectAll(".ytick")
      .data(yTicks)
      .enter().append("text")
      .attr("class", "ytick")
      .attr("x", left - 4.5)
      .attr("y", function(d){ return y(d) + 4.6; })
      .attr("text-anchor", "end")
      .style("font-size", "13px")
      .text(function(d){ return d; });

    g.selectAll(".xtick")
      .data(xTicks)
      .enter().append("text")
      .attr("class", "xtick")
      .attr("x", function(d){ return x(d); })
      .attr("y", bottom + 15.5)
      .attr("text-anchor", "middle")
      .style("font-size", "13px")
      .text(function(d){ return d; });
  });
});

</script>
</body>
</html>
